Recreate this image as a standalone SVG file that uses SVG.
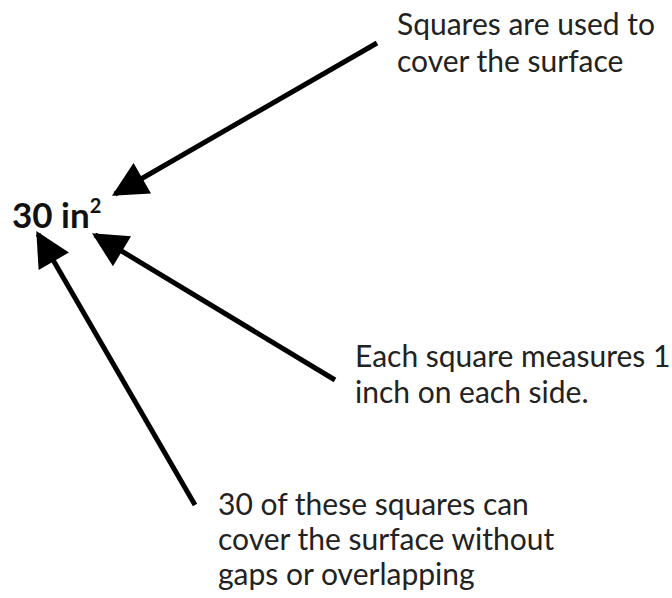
<svg xmlns="http://www.w3.org/2000/svg" width="672" height="598" viewBox="0 0 672 598">
<style>
.t{font-family:Lato,"Open Sans",sans-serif;font-size:30px;fill:#222}
.b{font-family:Lato,"Open Sans",sans-serif;font-size:35px;font-weight:bold;fill:#111}
.c{stroke:#000;stroke-width:5;fill:none}
</style>
<defs>
<marker id="ah" viewBox="0 0 10 10" refX="9" refY="5" markerWidth="7.5" markerHeight="7" markerUnits="strokeWidth" orient="auto">
<path d="M0,0 L10,5 L0,10 z" fill="#000"/>
</marker>
</defs>
<rect width="672" height="598" fill="#fff"/>
<g id="connectors">
<line class="c" x1="377" y1="43" x2="115" y2="194" marker-end="url(#ah)"/>
<line class="c" x1="335" y1="380" x2="95" y2="235" marker-end="url(#ah)"/>
<line class="c" x1="195" y1="505" x2="38" y2="234" marker-end="url(#ah)"/>
</g>
<g id="center">
<text class="b" x="12" y="228">30 in<tspan font-size="20" dy="-15">2</tspan></text>
</g>
<g id="note-top">
<text class="t" x="397" y="35">Squares are used to</text>
<text class="t" x="397" y="72">cover the surface</text>
</g>
<g id="note-right">
<text class="t" x="355" y="367">Each square measures 1</text>
<text class="t" x="355" y="403">inch on each side.</text>
</g>
<g id="note-bottom">
<text class="t" x="218" y="515">30 of these squares can</text>
<text class="t" x="218" y="550">cover the surface without</text>
<text class="t" x="218" y="585">gaps or overlapping</text>
</g>
</svg>
